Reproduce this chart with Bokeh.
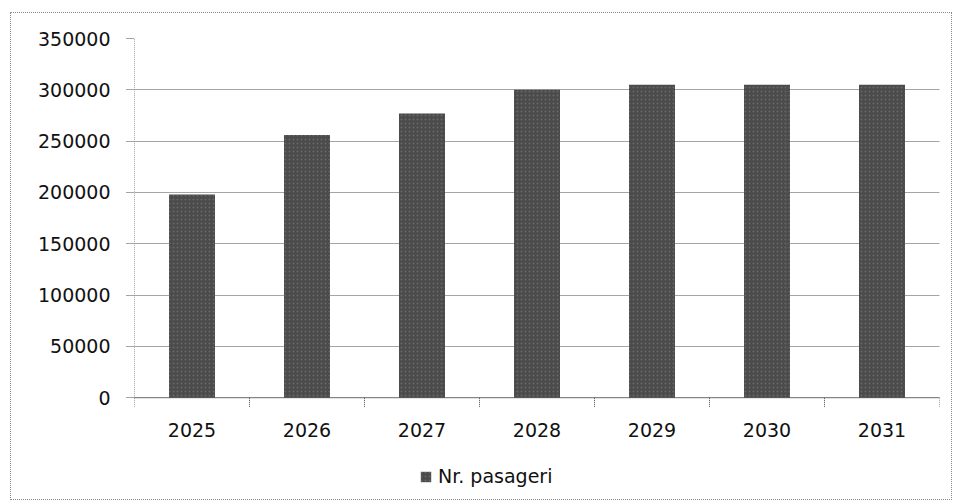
import math
from bokeh.plotting import figure
from bokeh.models import FixedTicker, Legend, LegendItem, Range1d, ColumnDataSource
from bokeh.core.properties import value
from bokeh.embed import file_html
from bokeh.resources import INLINE

years = ["2025", "2026", "2027", "2028", "2029", "2030", "2031"]
pasageri = [198000, 256000, 277000, 300000, 305000, 305000, 305000]
y_ticks = [0, 50000, 100000, 150000, 200000, 250000, 300000, 350000]
series_name = "Nr. pasageri"

FONT = "DejaVu Sans"
GRID = "#4a4a4a"
Y_LOW = -93200  # room below zero for the category labels and the legend

centers = [i + 0.5 for i in range(len(years))]
bounds = list(range(len(years) + 1))
src = ColumnDataSource(dict(x=centers, top=pasageri, year=years))

p = figure(width=942, height=488, output_backend="svg", toolbar_location=None,
           x_range=Range1d(0, len(years)), y_range=Range1d(Y_LOW, y_ticks[-1]),
           min_border_left=123, min_border_right=14, min_border_top=25, min_border_bottom=8)
p.margin = (12, 0, 0, 10)
p.styles = {"border": "1px dotted #888888", "box-sizing": "border-box"}
p.outline_line_color = None
p.background_fill_color = "white"

# gridlines
p.xgrid.grid_line_color = None
p.ygrid.ticker = FixedTicker(ticks=y_ticks)
p.ygrid.grid_line_color = GRID
p.ygrid.grid_line_dash = "1 1"
p.ygrid.grid_line_width = 1

r = p.vbar(x="x", top="top", width=0.4, source=src, fill_color="#4b4b4b",
           line_color=None, hatch_pattern="dot", hatch_color="#7a7a7a",
           hatch_scale=4, hatch_weight=1, hatch_alpha=0.6)

# y axis (ticks and labels); the axis line is drawn only from 0 upward
p.yaxis.ticker = FixedTicker(ticks=y_ticks)
p.yaxis.minor_tick_line_color = None
p.yaxis.major_tick_in = 0
p.yaxis.major_tick_out = 8
p.yaxis.major_tick_line_color = GRID
p.yaxis.major_tick_line_dash = "1 1"
p.yaxis.axis_line_color = None
p.yaxis.major_label_text_font = FONT
p.yaxis.major_label_text_font_size = "19px"
p.yaxis.major_label_text_color = "#111111"
p.yaxis.major_label_standoff = 16
p.yaxis.formatter.use_scientific = False
p.segment(x0=[bounds[0]], y0=[y_ticks[0]], x1=[bounds[0]], y1=[y_ticks[-1]],
          line_color=GRID, line_dash="1 1", line_width=1)

# x axis drawn at y = 0: axis line, boundary ticks and year labels
p.xaxis.visible = False
p.segment(x0=[bounds[0]], y0=[0], x1=[bounds[-1]], y1=[0],
          line_color=GRID, line_dash="1 1", line_width=1)
p.ray(x=bounds, y=[0] * len(bounds), length=9, angle=-math.pi / 2,
      length_units="screen", line_color=GRID, line_dash="1 1", line_width=1)
p.text(x=centers, y=[0] * len(centers), text=years, y_offset=25,
       text_align="center", text_baseline="top", text_font=value(FONT),
       text_font_size="19px", text_color="#111111")

legend = Legend(items=[LegendItem(label=series_name, renderers=[r])],
                location=(285, 6), orientation="horizontal",
                label_text_font=FONT, label_text_font_size="19px",
                label_text_color="#111111", glyph_width=13, glyph_height=13,
                border_line_color=None, background_fill_alpha=0,
                padding=0, margin=0, spacing=0, label_standoff=6)
p.add_layout(legend, "center")

open("out.html", "w").write(file_html(p, INLINE))
